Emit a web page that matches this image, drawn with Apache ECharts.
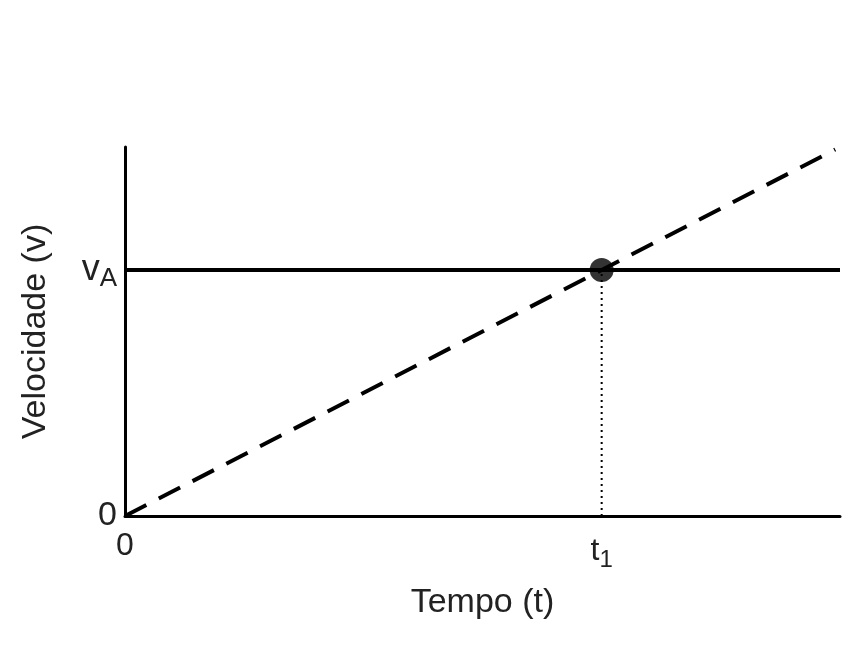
<!DOCTYPE html>
<html><head><meta charset="utf-8">
<script src="https://cdn.jsdelivr.net/npm/echarts@6/dist/echarts.min.js"></script>
<style>html,body{margin:0;background:#fff}#c{width:860px;height:646px}</style>
</head><body><div id="c"></div>
<script>
const xTicks = [0, 1];           // 0, t1
const yTicks = [0, 1];           // 0, vA
const lineA = [[0, 1], [1.5, 1]];        // constant velocity vA
const lineB = [[0, 0], [1.49, 1.49]];    // uniformly accelerated
const meetPoint = [[1, 1]];
const chart = echarts.init(document.getElementById('c'));
const F = 'Liberation Sans, Arial, sans-serif';
chart.setOption({
  animation: false,
  grid: {left: 125, right: 20, top: 147, bottom: 130},
  xAxis: {type: 'value', min: 0, max: 1.5, interval: 0.5,
    name: 'Tempo (t)', nameLocation: 'middle', nameGap: 70,
    nameTextStyle: {fontFamily: F, fontSize: 34, color: '#222'},
    axisLine: {lineStyle: {color: '#000', width: 3}}, axisTick: {show: false}, splitLine: {show: false},
    axisLabel: {fontFamily: F, fontSize: 32, color: '#222', margin: 14,
      formatter: v => v === 0 ? '0' : (v === 1 ? '{a|t}{s|1}' : ''),
      rich: {a: {fontSize: 32, fontFamily: F, color: '#222'}, s: {fontSize: 24, fontFamily: F, color: '#222', verticalAlign: 'bottom', padding: [18, 0, 0, 0]}}}},
  yAxis: {type: 'value', min: 0, max: 1.5, interval: 0.5,
    name: 'Velocidade (v)', nameLocation: 'middle', nameGap: 72,
    nameTextStyle: {fontFamily: F, fontSize: 34, color: '#222'},
    axisLine: {lineStyle: {color: '#000', width: 3}}, axisTick: {show: false}, splitLine: {show: false},
    axisLabel: {fontFamily: F, fontSize: 34, color: '#222', margin: 8,
      formatter: v => v === 0 ? '0' : (v === 1 ? '{a|v}{s|A}' : ''),
      rich: {a: {fontSize: 36, fontFamily: F, color: '#222'}, s: {fontSize: 26, fontFamily: F, color: '#222', verticalAlign: 'bottom', padding: [18, 0, 0, 0]}}}},
  series: [
    {type: 'line', data: lineA, symbol: 'none', lineStyle: {color: '#000', width: 4}},
    {type: 'line', data: lineB, symbol: 'none', lineStyle: {color: '#000', width: 4, type: [24, 14]}},
    {type: 'line', data: [[1, 0], [1, 1]], symbol: 'none', lineStyle: {color: '#000', width: 2, type: [2, 4]}},
    {type: 'scatter', data: meetPoint, symbolSize: 24, itemStyle: {color: '#000'}, z: 5}
  ]
});
</script></body></html>
